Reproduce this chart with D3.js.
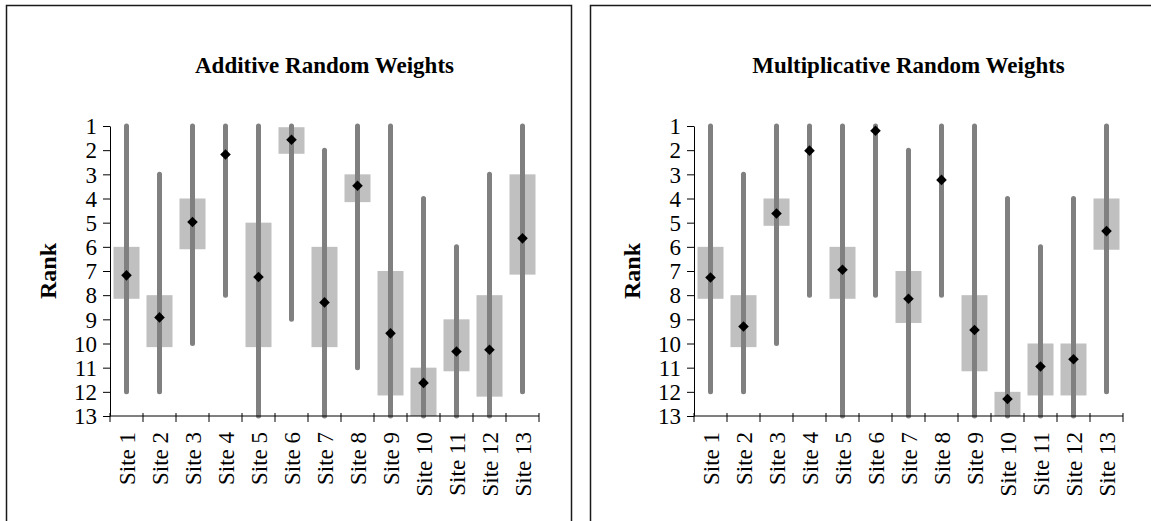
<!DOCTYPE html>
<html lang="en">
<head>
<meta charset="utf-8">
<title>Rank ranges</title>
<script src="https://cdn.jsdelivr.net/npm/d3@7"></script>
<style>
  body { margin: 0; background: #fff; }
  svg text { font-family: "Liberation Serif", "Times New Roman", serif; fill: #000; }
</style>
</head>
<body>
<div id="chart"></div>
<script>
// categories and tick labels
const sites = ["Site 1","Site 2","Site 3","Site 4","Site 5","Site 6","Site 7","Site 8","Site 9","Site 10","Site 11","Site 12","Site 13"];
const ranks = [1,2,3,4,5,6,7,8,9,10,11,12,13];
const titles = ["Additive Random Weights", "Multiplicative Random Weights"];

// additive: full range (min,max), box (lo,hi), mean rank
const addMin  = [1, 3, 1, 1, 1, 1, 2, 1, 1, 4, 6, 3, 1];
const addMax  = [12, 12, 10, 8, 13, 9, 13, 11, 13, 13, 13, 13, 12];
const addLo   = [6, 8, 4, null, 5, 1.05, 6, 3, 7, 11, 9, 8, 3];
const addHi   = [8.15, 10.15, 6.1, null, 10.15, 2.15, 10.15, 4.15, 12.15, 13, 11.15, 12.2, 7.15];
const addMean = [7.18, 8.92, 4.97, 2.18, 7.25, 1.57, 8.3, 3.47, 9.58, 11.63, 10.33, 10.26, 5.65];

// multiplicative
const mulMin  = [1, 3, 1, 1, 1, 1, 2, 1, 1, 4, 6, 4, 1];
const mulMax  = [12, 12, 10, 8, 13, 8, 13, 8, 13, 13, 13, 13, 12];
const mulLo   = [6, 8, 4, null, 6, null, 7, null, 8, 12, 10, 10, 4];
const mulHi   = [8.15, 10.15, 5.13, null, 8.15, null, 9.15, null, 11.15, 13, 12.15, 12.15, 6.12];
const mulMean = [7.27, 9.3, 4.62, 2.02, 6.95, 1.2, 8.15, 3.23, 9.44, 12.3, 10.95, 10.65, 5.35];

const W = 1151, H = 521;
const svg = d3.select("#chart").append("svg").attr("width", W).attr("height", H);

function panel(px, title, mins, maxs, los, his, means) {
    const g = svg.append("g");
    // chart frame (runs off the bottom / right of the picture)
    g.append("rect")
        .attr("x", px).attr("y", 5.5)
        .attr("width", 565).attr("height", 560)
        .attr("fill", "none").attr("stroke", "#1a1a1a").attr("stroke-width", 1.5);

    const left = px + 103.5, right = left + 429;
    const x = d3.scaleBand().domain(sites).range([left, right]).padding(0);
    const y = d3.scaleLinear().domain([1, 13]).range([126, 416]);
    const bw = 26;

    g.append("text")
        .attr("x", (left + right) / 2).attr("y", 73)
        .attr("text-anchor", "middle")
        .style("font-size", "23px").style("font-weight", "bold")
        .text(title);

    const rows = sites.map((s, i) => ({s, min: mins[i], max: maxs[i], lo: los[i], hi: his[i], mean: means[i]}));

    // boxes
    g.selectAll("rect.box").data(rows.filter(d => d.lo != null)).enter()
        .append("rect").attr("class", "box")
        .attr("x", d => x(d.s) + x.bandwidth() / 2 - bw / 2)
        .attr("width", bw)
        .attr("y", d => y(d.lo))
        .attr("height", d => y(d.hi) - y(d.lo))
        .attr("fill", "#c0c0c0");

    // range lines
    g.selectAll("line.rng").data(rows).enter()
        .append("line").attr("class", "rng")
        .attr("x1", d => x(d.s) + x.bandwidth() / 2)
        .attr("x2", d => x(d.s) + x.bandwidth() / 2)
        .attr("y1", d => y(d.min))
        .attr("y2", d => y(d.max))
        .attr("stroke", "#808080").attr("stroke-width", 5)
        .attr("stroke-linecap", "round");

    // mean diamonds
    g.selectAll("path.mk").data(rows).enter()
        .append("path").attr("class", "mk")
        .attr("d", d3.symbol(d3.symbolSquare, 56)())
        .attr("transform", d => `translate(${x(d.s) + x.bandwidth() / 2},${y(d.mean)}) rotate(45)`)
        .attr("fill", "#000");

    // y axis
    const ya = g.append("g")
        .attr("transform", `translate(${left},0)`)
        .call(d3.axisLeft(y).tickValues(ranks).tickSize(7).tickSizeOuter(0).tickPadding(6).tickFormat(d3.format("d")));
    ya.select(".domain").attr("stroke", "#000");
    ya.selectAll("text").style("font-size", "23px").attr("dy", "0.34em");

    // x axis line + boundary ticks
    const xa = g.append("g").attr("transform", "translate(0,416)");
    xa.append("line").attr("x1", left).attr("x2", right).attr("stroke", "#000");
    const bounds = sites.map(s => x(s)).concat([right]);
    xa.selectAll("line.tk").data(bounds).enter()
        .append("line").attr("class", "tk")
        .attr("x1", d => d).attr("x2", d => d)
        .attr("y1", -3).attr("y2", 6)
        .attr("stroke", "#000");
    xa.selectAll("text").data(sites).enter()
        .append("text")
        .attr("transform", d => `translate(${x(d) + x.bandwidth() / 2},16) rotate(-90)`)
        .attr("dy", "0.35em")
        .attr("text-anchor", "end")
        .style("font-size", "23px")
        .text(d => d);

    g.append("text")
        .attr("transform", `translate(${px + 49},271) rotate(-90)`)
        .attr("text-anchor", "middle")
        .style("font-size", "24px").style("font-weight", "bold")
        .text("Rank");
}

panel(6.5, titles[0], addMin, addMax, addLo, addHi, addMean);
panel(590.5, titles[1], mulMin, mulMax, mulLo, mulHi, mulMean);
</script>
</body>
</html>
